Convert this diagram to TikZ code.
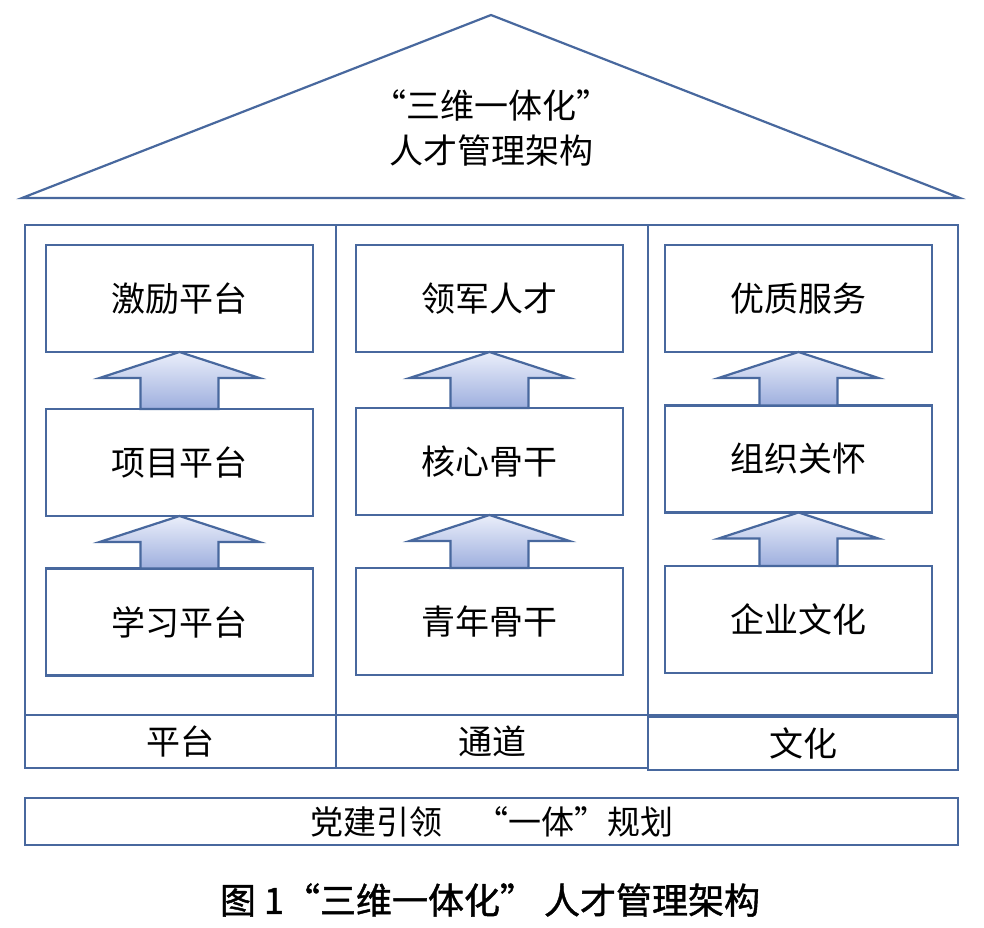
\documentclass[tikz,border=0pt]{standalone}
\usepackage{fontspec}
\setmainfont{Noto Sans CJK SC}
\newfontfamily\capfont[FakeBold=1.2]{Noto Sans CJK SC}
\usetikzlibrary{calc}
\definecolor{frameblue}{RGB}{72,104,158}
\definecolor{arrtop}{RGB}{234,238,250}
\definecolor{arrbot}{RGB}{158,175,222}
\tikzset{
  frame/.style={draw=frameblue, line width=2.2pt, inner sep=0pt, outer sep=0pt},
  stagebox/.style={frame, fill=white, minimum width=267pt, minimum height=107pt,
    font=\fontsize{34}{40}\selectfont},
  labelbox/.style={frame, minimum height=53pt, font=\fontsize{34}{40}\selectfont},
  arrowshape/.style={draw=frameblue, line width=2.2pt, line join=miter,
    top color=arrtop, bottom color=arrbot},
}
\newcommand\blockarrow[2]{%
  \draw[arrowshape] let \p1=(#1.south), \p2=(#2.north) in
  (\x1,\y1) -- (\x1+80pt,\y1-26pt) -- (\x1+39pt,\y1-26pt) -- (\x1+39pt,\y2)
  -- (\x1-39pt,\y2) -- (\x1-39pt,\y1-26pt) -- (\x1-80pt,\y1-26pt) -- cycle;}
\begin{document}
\begin{tikzpicture}[x=1pt,y=-1pt]
\useasboundingbox[fill=white] (0,0) rectangle (984,927);
% roof
\draw[frameblue, line width=2.2pt, line join=miter] (22,198) -- (491,15) -- (960,198) -- cycle;
\node[align=center, font=\fontsize{34}{45}\selectfont] (roof) at (491,128) {“三维一体化”\\人才管理架构};
% column frames
\node[frame, minimum width=311pt, minimum height=490pt] (c1) at (180.5,470) {};
\node[frame, minimum width=312pt, minimum height=490pt] (c2) at (492,470) {};
\node[frame, minimum width=310pt, minimum height=490pt] (c3) at (803,470) {};
% stage boxes
\node[stagebox] (a1) at (179.5,298.5) {激励平台};
\node[stagebox] (a2) at (179.5,462.5) {项目平台};
\node[stagebox] (a3) at (179.5,622) {学习平台};
\node[stagebox] (b1) at (489.5,298.5) {领军人才};
\node[stagebox] (b2) at (489.5,461.5) {核心骨干};
\node[stagebox] (b3) at (489.5,621.5) {青年骨干};
\node[stagebox] (r1) at (798.5,298.5) {优质服务};
\node[stagebox] (r2) at (798.5,459) {组织关怀};
\node[stagebox] (r3) at (798.5,619.5) {企业文化};
% arrows
\blockarrow{a1}{a2}
\blockarrow{a2}{a3}
\blockarrow{b1}{b2}
\blockarrow{b2}{b3}
\blockarrow{r1}{r2}
\blockarrow{r2}{r3}
% labels
\node[labelbox, minimum width=311pt] (l1) at (180.5,741.5) {平台};
\node[labelbox, minimum width=312pt] (l2) at (492,741.5) {通道};
\node[labelbox, minimum width=310pt] (l3) at (803,743.5) {文化};
% base
\node[frame, minimum width=933pt, minimum height=47pt, font=\fontsize{33}{40}\selectfont] (base) at (491.5,821.5) {党建引领　“一体”规划};
% caption
\node[font=\fontsize{36}{40}\capfont] (cap) at (490,900) {图 1“三维一体化” 人才管理架构};
\end{tikzpicture}
\end{document}
